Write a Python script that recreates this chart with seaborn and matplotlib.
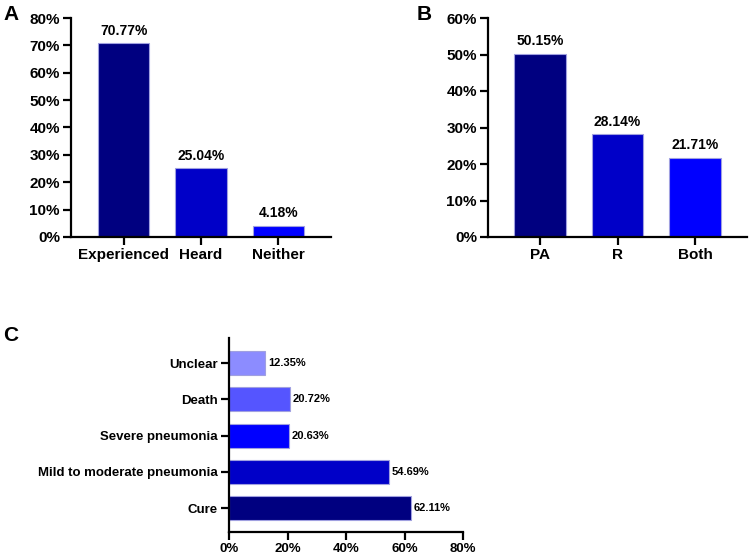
import matplotlib
matplotlib.use("Agg")
import matplotlib.pyplot as plt
import seaborn as sns

# panel A
cat_a = ["Experienced", "Heard", "Neither"]
val_a = [70.77, 25.04, 4.18]
# panel B
cat_b = ["PA", "R", "Both"]
val_b = [50.15, 28.14, 21.71]
# panel C (top to bottom)
cat_c = ["Unclear", "Death", "Severe pneumonia", "Mild to moderate pneumonia", "Cure"]
val_c = [12.35, 20.72, 20.63, 54.69, 62.11]

col_a = ["#000080", "#0000c8", "#0000ff"]
col_c = ["#8c8cff", "#5555ff", "#0000ff", "#0000c8", "#000080"]

sns.set_style("ticks")
plt.rcParams["font.family"] = ["Liberation Sans", "DejaVu Sans"]
plt.rcParams["font.weight"] = "bold"
plt.rcParams["text.color"] = "black"
plt.rcParams["xtick.color"] = "black"
plt.rcParams["ytick.color"] = "black"

fig = plt.figure(figsize=(7.5, 5.58), dpi=100)
W, H = 750, 558

def axes_px(left, right, top, bottom):
    return fig.add_axes([left / W, (H - bottom) / H, (right - left) / W, (bottom - top) / H])

def style(ax):
    sns.despine(ax=ax)
    for s in ["left", "bottom"]:
        ax.spines[s].set_linewidth(1.6)
        ax.spines[s].set_color("black")
    ax.tick_params(width=1.6, length=6, color="black", labelcolor="black", pad=2)
    ax.set_xlabel("")
    ax.set_ylabel("")

# ---- A ----
ax = axes_px(71, 331, 18, 237)
sns.barplot(x=cat_a, y=val_a, hue=cat_a, palette=col_a, legend=False, width=0.667,
            saturation=1, edgecolor="#a0a0e0", linewidth=0.8, ax=ax)
ax.set_xlim(-0.68, 2.68)
ax.set_ylim(0, 80)
ax.set_yticks(range(0, 81, 10))
ax.set_yticklabels([f"{t}%" for t in range(0, 81, 10)], fontsize=11, fontweight="bold")
ax.tick_params(axis="x", labelsize=11)
for c in ax.containers:
    ax.bar_label(c, fmt="%.2f%%", padding=4, fontsize=10, fontweight="bold")
style(ax)

# ---- B ----
ax = axes_px(488, 747, 18, 237)
sns.barplot(x=cat_b, y=val_b, hue=cat_b, palette=col_a, legend=False, width=0.667,
            saturation=1, edgecolor="#a0a0e0", linewidth=0.8, ax=ax)
ax.set_xlim(-0.67, 2.67)
ax.set_ylim(0, 60)
ax.set_yticks(range(0, 61, 10))
ax.set_yticklabels([f"{t}%" for t in range(0, 61, 10)], fontsize=11, fontweight="bold")
ax.tick_params(axis="x", labelsize=11)
for c in ax.containers:
    ax.bar_label(c, fmt="%.2f%%", padding=4, fontsize=10, fontweight="bold")
style(ax)

# ---- C ----
ax = axes_px(229, 463, 338, 532)
sns.barplot(x=val_c, y=cat_c, hue=cat_c, palette=col_c, legend=False, orient="h",
            width=0.66, saturation=1, edgecolor="#a0a0e0", linewidth=0.8, ax=ax)
ax.set_ylim(4.66, -0.69)
ax.set_xlim(0, 80)
ax.set_xticks(range(0, 81, 20))
ax.set_xticklabels([f"{t}%" for t in range(0, 81, 20)], fontsize=9.5, fontweight="bold")
ax.tick_params(axis="y", labelsize=9.5)
for c in ax.containers:
    ax.bar_label(c, fmt="%.2f%%", padding=2, fontsize=8, fontweight="bold")
style(ax)

# panel letters
fig.text(3 / W, 1 - 5 / H, "A", fontsize=15, fontweight="bold", va="top")
fig.text(417 / W, 1 - 5 / H, "B", fontsize=15, fontweight="bold", va="top")
fig.text(3 / W, 1 - 326 / H, "C", fontsize=15, fontweight="bold", va="top")

fig.savefig("out.png", dpi=100)
